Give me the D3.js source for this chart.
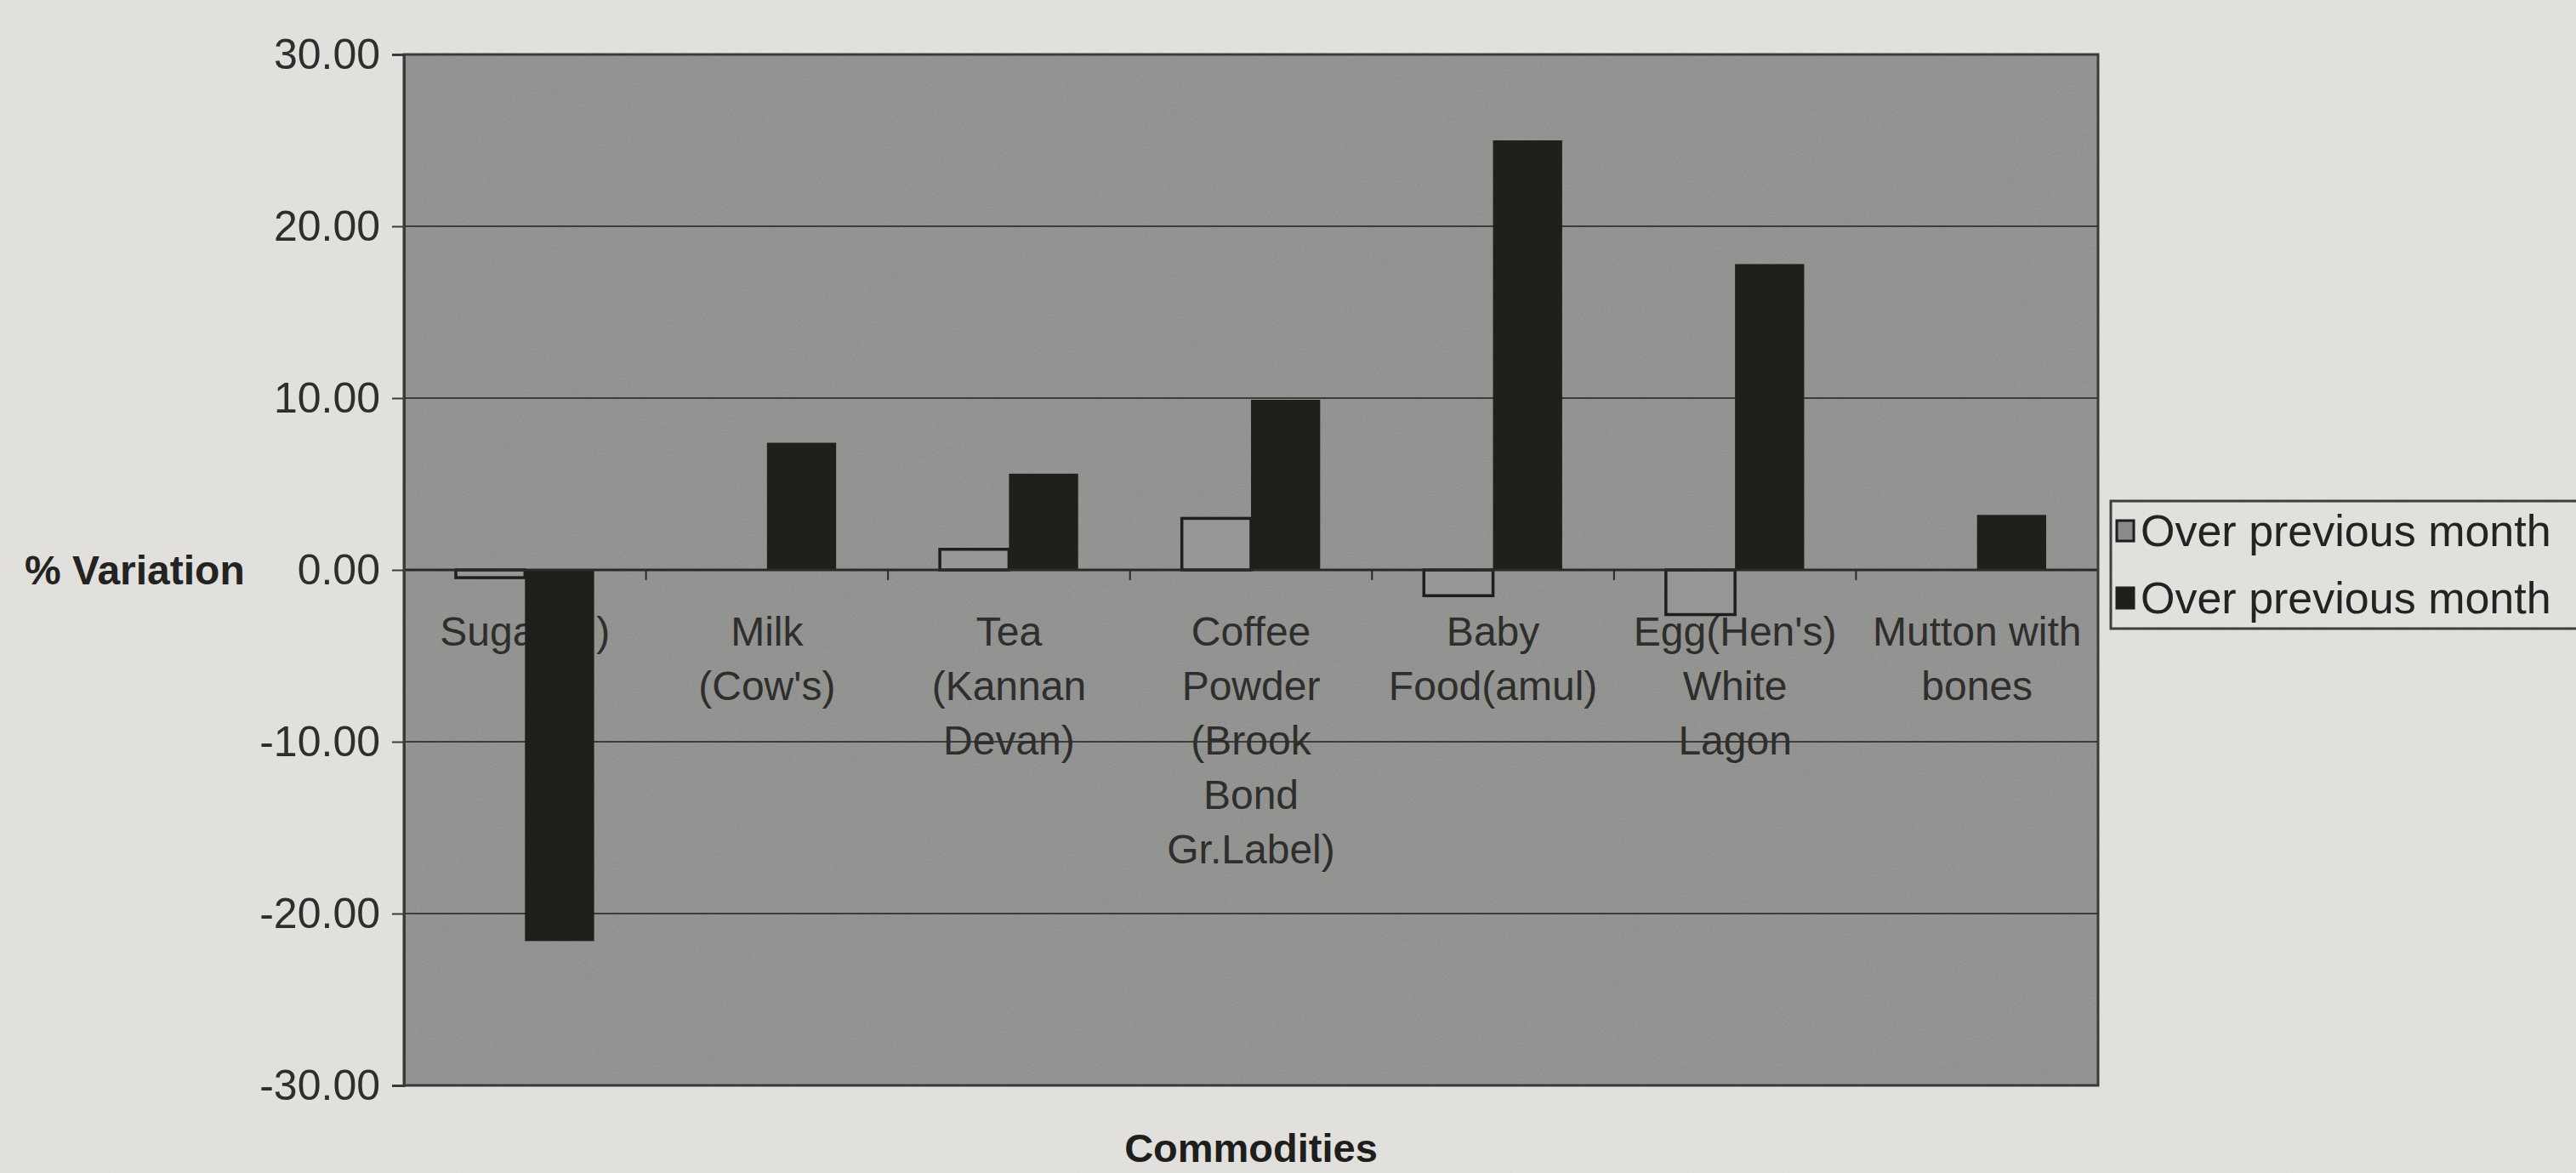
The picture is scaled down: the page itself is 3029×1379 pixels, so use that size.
<!DOCTYPE html>
<html>
<head>
<meta charset="utf-8">
<script src="https://cdn.jsdelivr.net/npm/d3@7"></script>
<style>
  html, body { margin: 0; padding: 0; background: #e4e2df; }
  svg { display: block; }
  text { font-family: "Liberation Sans", Arial, sans-serif; }
</style>
</head>
<body>
<svg id="chart" width="3029" height="1379"></svg>
<script>
// ---- data ----
const categories = [
  ["Sugar(M)"],
  ["Milk", "(Cow's)"],
  ["Tea", "(Kannan", "Devan)"],
  ["Coffee", "Powder", "(Brook", "Bond", "Gr.Label)"],
  ["Baby", "Food(amul)"],
  ["Egg(Hen's)", "White", "Lagon"],
  ["Mutton with", "bones"]
];
const seriesNames = ["Over previous month", "Over previous month"];
const series1 = [-0.45, 0, 1.2, 3.0, -1.5, -2.6, 0];
const series2 = [-21.6, 7.4, 5.6, 9.9, 25.0, 17.8, 3.2];
const yTicks = [30, 20, 10, 0, -10, -20, -30];
const yTitle = "% Variation";
const xTitle = "Commodities";

// ---- layout ----
const W = 3029, H = 1379;
const plot = { left: 475, right: 2467, top: 64, bottom: 1276 };
const svg = d3.select("#chart");

const defs = svg.append("defs");
const grain = defs.append("filter").attr("id", "grain").attr("x", 0).attr("y", 0).attr("width", 1).attr("height", 1);
grain.append("feTurbulence").attr("type", "fractalNoise").attr("baseFrequency", 0.85).attr("numOctaves", 2).attr("seed", 4);
grain.append("feColorMatrix").attr("type", "saturate").attr("values", 0);

// page background grain
svg.append("rect").attr("width", W).attr("height", H).attr("fill", "#e4e2df");
svg.append("rect").attr("width", W).attr("height", H).attr("filter", "url(#grain)").attr("opacity", 0.10);

const ids = d3.range(categories.length);
const x0 = d3.scaleBand().domain(ids).range([plot.left, plot.right]).padding(0);
const x1 = d3.scaleBand().domain([0, 1]).range([0, x0.bandwidth()]).paddingInner(0).paddingOuter(0.75);
const y = d3.scaleLinear().domain([-30, 30]).range([plot.bottom, plot.top]);

// plot background
svg.append("rect")
  .attr("x", plot.left).attr("y", plot.top)
  .attr("width", plot.right - plot.left).attr("height", plot.bottom - plot.top)
  .attr("fill", "#8e8e8c");
svg.append("rect")
  .attr("x", plot.left).attr("y", plot.top)
  .attr("width", plot.right - plot.left).attr("height", plot.bottom - plot.top)
  .attr("filter", "url(#grain)").attr("opacity", 0.22);

// gridlines
svg.append("g").selectAll("line").data(yTicks.filter(d => d !== 0 && d !== 30 && d !== -30)).join("line")
  .attr("x1", plot.left).attr("x2", plot.right)
  .attr("y1", d => y(d)).attr("y2", d => y(d))
  .attr("stroke", "#3c3c3a").attr("stroke-width", 2);

// category labels (drawn under the bars)
const lineH = 64;
const labels = svg.append("g").attr("font-size", 48).attr("fill", "#2e2e2c").attr("text-anchor", "middle");
categories.forEach((lines, i) => {
  const t = labels.append("text").attr("x", x0(i) + x0.bandwidth() / 2).attr("y", y(0) + 89);
  lines.forEach((ln, k) => {
    t.append("tspan").attr("x", x0(i) + x0.bandwidth() / 2).attr("dy", k === 0 ? 0 : lineH).text(ln);
  });
});

// bars
const rows = ids.map(i => ({ i, vals: [series1[i], series2[i]] }));
const g = svg.append("g");
g.selectAll("g").data(rows).join("g")
  .attr("transform", d => `translate(${x0(d.i)},0)`)
  .selectAll("rect").data(d => d.vals.map((v, s) => ({ v, s }))).join("rect")
  .attr("x", d => x1(d.s))
  .attr("width", x1.bandwidth())
  .attr("y", d => y(Math.max(0, d.v)))
  .attr("height", d => Math.abs(y(d.v) - y(0)))
  .attr("fill", d => d.s === 0 ? "#979795" : "#1f201b")
  .attr("stroke", d => d.s === 0 ? "#1e1e1c" : "none")
  .attr("stroke-width", 3.5);

// zero (category) axis line
svg.append("line")
  .attr("x1", plot.left).attr("x2", plot.right)
  .attr("y1", y(0)).attr("y2", y(0))
  .attr("stroke", "#2a2a28").attr("stroke-width", 3);
// category ticks
svg.append("g").selectAll("line").data(d3.range(1, categories.length)).join("line")
  .attr("x1", d => x0(d)).attr("x2", d => x0(d))
  .attr("y1", y(0)).attr("y2", y(0) + 12)
  .attr("stroke", "#2a2a28").attr("stroke-width", 2);

// plot border
svg.append("rect")
  .attr("x", plot.left).attr("y", plot.top)
  .attr("width", plot.right - plot.left).attr("height", plot.bottom - plot.top)
  .attr("fill", "none").attr("stroke", "#3a3a38").attr("stroke-width", 3);

// y axis
const fmt = d3.format(".2f");
const yAxis = d3.axisLeft(y).tickValues(yTicks).tickFormat(d => fmt(d).replace("\u2212", "-")).tickSize(14).tickPadding(14);
const ya = svg.append("g").attr("transform", `translate(${plot.left},0)`).call(yAxis);
ya.select(".domain").attr("stroke", "#3a3a38").attr("stroke-width", 3);
ya.selectAll(".tick line").attr("stroke", "#3a3a38").attr("stroke-width", 2);
ya.selectAll(".tick text").attr("font-size", 50).attr("fill", "#2e2e2c")
  .attr("font-family", '"Liberation Sans", Arial, sans-serif');

// axis titles
svg.append("text").attr("x", 29).attr("y", y(0)).attr("dy", "0.35em")
  .attr("font-size", 48).attr("font-weight", "bold").attr("fill", "#232321").text(yTitle);
svg.append("text").attr("x", (plot.left + plot.right) / 2).attr("y", 1366)
  .attr("text-anchor", "middle").attr("font-size", 47).attr("font-weight", "bold").attr("fill", "#1e1e1c").text(xTitle);

// legend
const leg = svg.append("g");
leg.append("rect").attr("x", 2482).attr("y", 589).attr("width", 600).attr("height", 150)
  .attr("fill", "none").attr("stroke", "#3e3e3c").attr("stroke-width", 3);
const legRows = [
  { name: seriesNames[0], fill: "#8a8a88", stroke: "#1e1e1c", cy: 624 },
  { name: seriesNames[1], fill: "#1f201b", stroke: "#1f201b", cy: 703 }
];
legRows.forEach(r => {
  leg.append("rect").attr("x", 2489).attr("y", r.cy - 12).attr("width", 20).attr("height", 24)
    .attr("fill", r.fill).attr("stroke", r.stroke).attr("stroke-width", 3);
  leg.append("text").attr("x", 2517).attr("y", r.cy).attr("dy", "0.35em")
    .attr("font-size", 52).attr("fill", "#232321").text(r.name);
});
</script>
</body>
</html>
